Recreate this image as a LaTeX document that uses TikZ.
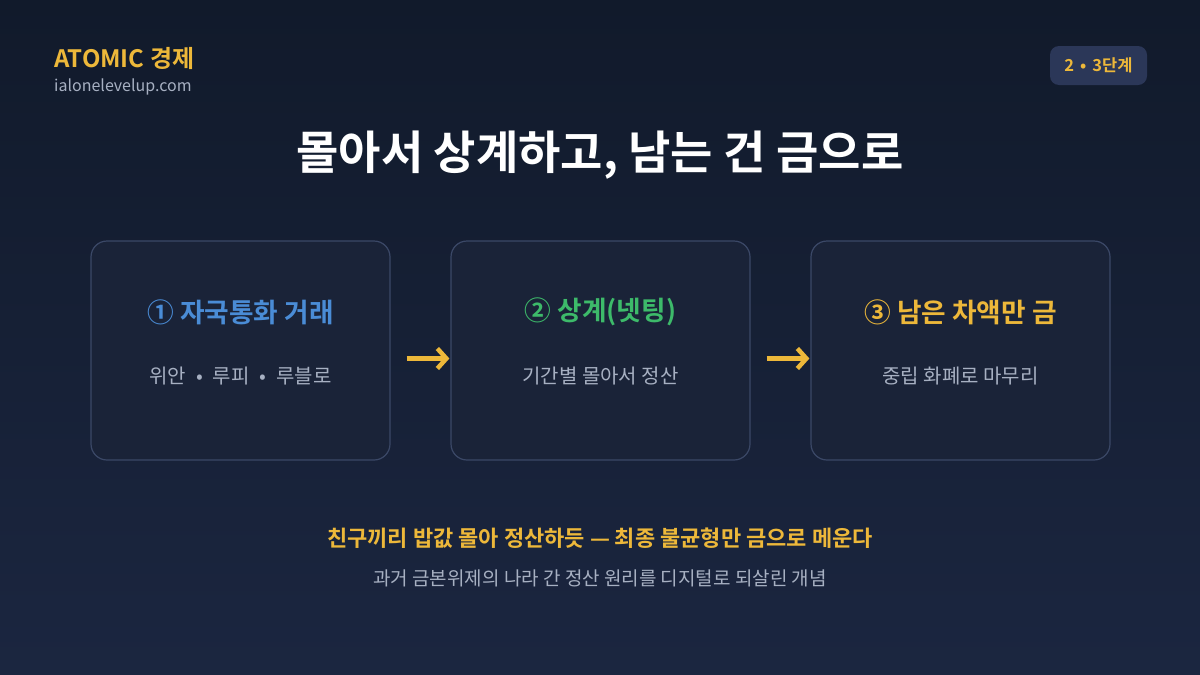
\documentclass[tikz,border=0pt]{standalone}
\usepackage{fontspec}
\setmainfont{Noto Sans CJK KR}[BoldFont={* Bold}]
\usetikzlibrary{arrows.meta}
\definecolor{bgtop}{HTML}{111A2B}
\definecolor{bgbot}{HTML}{1B2640}
\definecolor{gold}{HTML}{EDB83A}
\definecolor{subgray}{HTML}{A7B0C2}
\definecolor{boxfill}{HTML}{1A2338}
\definecolor{boxline}{HTML}{3B4867}
\definecolor{badgefill}{HTML}{2B3758}
\definecolor{stepblue}{HTML}{4A8CD6}
\definecolor{stepgreen}{HTML}{3DBA6A}
\newcommand{\mybul}{\hspace{10pt}•\hspace{10pt}}
\tikzset{
  stepbox/.style={draw=boxline, line width=1.2pt, fill=boxfill, rounded corners=16pt, minimum width=299pt, minimum height=219pt, inner sep=0pt},
  steptitle/.style={font=\bfseries\fontsize{26.7}{30}\selectfont, anchor=center},
  stepsub/.style={font=\fontsize{20}{24}\selectfont, text=subgray, anchor=center},
  flowarrow/.style={draw=gold, line width=4.5pt, -{Straight Barb[length=9pt,width=20pt,line width=4.5pt]}}
}
\begin{document}
\begin{tikzpicture}[x=1pt,y=-1pt]
\useasboundingbox (0,0) rectangle (1200,675);
\shade[top color=bgtop, bottom color=bgbot] (0,0) rectangle (1200,675);
% header
\node[anchor=west, text=gold, font=\bfseries\fontsize{24}{28}\selectfont, inner sep=0pt] (brand) at (54,58) {ATOMIC 경제};
\node[anchor=west, text=subgray, font=\fontsize{16}{19}\selectfont, inner sep=0pt] (site) at (54,87) {ialonelevelup.com};
\node[fill=badgefill, rounded corners=9pt, minimum width=97pt, minimum height=39pt, text=gold, font=\bfseries\fontsize{16.5}{19}\selectfont] (badge) at (1098.5,65.5) {2\hspace{6pt}•\hspace{6pt}3단계};
% title
\node[text=white, font=\bfseries\fontsize{46}{54}\selectfont] (title) at (600,155) {몰아서 상계하고, 남는 건 금으로};
% boxes
\node[stepbox] (b1) at (240.5,350.5) {};
\node[stepbox] (b2) at (600.5,350.5) {};
\node[stepbox] (b3) at (960.5,350.5) {};
\node[steptitle, text=stepblue] (t1) at (240.5,312) {① 자국통화 거래};
\node[steptitle, text=stepgreen] (t2) at (600.5,312) {② 상계(넷팅)};
\node[steptitle, text=gold] (t3) at (960.5,312) {③ 남은 차액만 금};
\node[stepsub] (s1) at (240.5,376) {위안\mybul 루피\mybul 루블로};
\node[stepsub] (s2) at (600.5,376) {기간별 몰아서 정산};
\node[stepsub] (s3) at (960.5,376) {중립 화폐로 마무리};
% arrows
\draw[flowarrow] ([xshift=16pt,yshift=-8pt]b1.east) -- ([xshift=-1pt,yshift=-8pt]b2.west);
\draw[flowarrow] ([xshift=16pt,yshift=-8pt]b2.east) -- ([xshift=-1pt,yshift=-8pt]b3.west);
% bottom
\node[text=gold, font=\bfseries\fontsize{22}{26}\selectfont] (tag) at (600,538) {친구끼리 밥값 몰아 정산하듯 — 최종 불균형만 금으로 메운다};
\node[text=subgray, font=\fontsize{19}{22}\selectfont] (note) at (600,578) {과거 금본위제의 나라 간 정산 원리를 디지털로 되살린 개념};
\end{tikzpicture}
\end{document}
